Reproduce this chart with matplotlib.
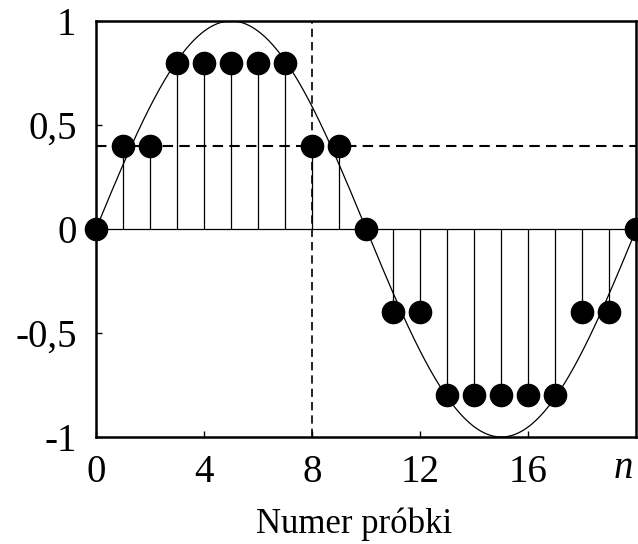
import matplotlib
matplotlib.use("Agg")
import matplotlib.pyplot as plt
import numpy as np

# quantized samples of one sine period
n = list(range(21))
xq = [0, 0.4, 0.4, 0.8, 0.8, 0.8, 0.8, 0.8, 0.4, 0.4, 0,
      -0.4, -0.4, -0.8, -0.8, -0.8, -0.8, -0.8, -0.4, -0.4, 0]
xticks = [0, 4, 8, 12, 16]
xtick_labels = ['0', '4', '8', '12', '16']
yticks = [-1, -0.5, 0, 0.5, 1]
ytick_labels = ['-1', '-0,5', '0', '0,5', '1']
amplitude = 1.0
period = 20
marked_n = 8
marked_level = 0.4

plt.rcParams['font.family'] = ['Liberation Serif', 'DejaVu Serif']

fig = plt.figure(figsize=(6.38, 5.44), dpi=100)
ax = fig.add_axes([0.1505, 0.1967, 0.847, 0.7647])

# analog signal
t = np.linspace(0, period, 400)
ax.plot(t, amplitude * np.sin(2 * np.pi * t / period), color='black', lw=0.9)

# stems and samples
ax.vlines(n, 0, xq, color='black', lw=0.9)
ax.plot([n[0], n[-1]], [0, 0], color='black', lw=0.9)
ax.plot(n, xq, 'o', color='black', markersize=16, clip_on=False, zorder=5)

# reference lines
ax.axvline(marked_n, color='black', lw=1.2, ls=(0, (5, 3)))
ax.axhline(marked_level, color='black', lw=1.5, ls=(0, (5, 3)))

ax.set_xlim(0, 20)
ax.set_ylim(-1, 1)
ax.set_xticks(xticks)
ax.set_xticklabels(xtick_labels, fontsize=28)
ax.set_yticks(yticks)
ax.set_yticklabels(ytick_labels, fontsize=28)
ax.tick_params(direction='in', length=4, width=1, pad=12)
ax.tick_params(axis='y', pad=14)
for s in ax.spines.values():
    s.set_linewidth(1.8)

# axis symbol in place of the last tick label
ax.text(0.975, -0.075, 'n', transform=ax.transAxes, fontsize=28,
        style='italic', ha='center', va='center')

ax.set_xlabel('Numer próbki', fontsize=25)
ax.xaxis.set_label_coords(0.478, -0.17)

fig.savefig('out.png', dpi=100)
